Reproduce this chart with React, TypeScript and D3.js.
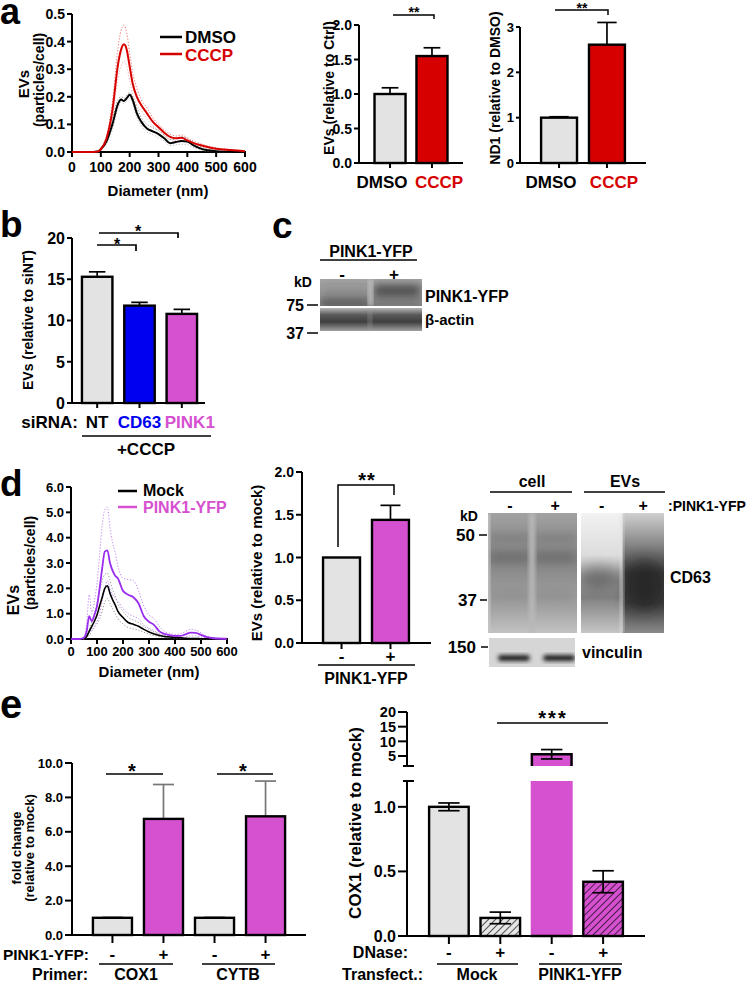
import React from "react";
import * as d3 from "d3";

const FONT = "'Liberation Sans', Arial, Helvetica, sans-serif";
const GRAY = "#e3e3e3";
const RED = "#d70000";
const BLUE = "#0000f0";
const MAG = "#d651d0";
const PURPLE = "#9a2cef";

// ---------- a: NTA size distribution ----------
const diamA = [0, 60, 90, 100, 120, 140, 160, 170, 180, 190, 200, 210, 225, 240, 260, 280, 300, 320, 340, 360, 380, 400, 420, 440, 470, 500, 550, 600];
const dmsoMean = [0, 0, 0.002, 0.01, 0.04, 0.1, 0.175, 0.19, 0.185, 0.195, 0.207, 0.19, 0.14, 0.11, 0.085, 0.075, 0.065, 0.05, 0.032, 0.036, 0.04, 0.038, 0.025, 0.015, 0.006, 0.003, 0.001, 0];
const dmsoHi = [0, 0, 0.003, 0.013, 0.05, 0.12, 0.19, 0.2, 0.195, 0.205, 0.215, 0.2, 0.16, 0.125, 0.1, 0.088, 0.078, 0.062, 0.045, 0.048, 0.055, 0.05, 0.035, 0.022, 0.01, 0.005, 0.002, 0];
const dmsoLo = [0, 0, 0.001, 0.007, 0.03, 0.08, 0.16, 0.18, 0.175, 0.185, 0.195, 0.175, 0.125, 0.095, 0.072, 0.063, 0.052, 0.04, 0.022, 0.026, 0.028, 0.027, 0.016, 0.009, 0.003, 0.001, 0, 0];
const cccpMean = [0, 0, 0.002, 0.01, 0.05, 0.15, 0.32, 0.37, 0.39, 0.37, 0.31, 0.25, 0.2, 0.17, 0.14, 0.11, 0.09, 0.07, 0.055, 0.05, 0.052, 0.042, 0.033, 0.026, 0.018, 0.012, 0.007, 0.003];
const cccpHi = [0, 0, 0.003, 0.014, 0.06, 0.18, 0.38, 0.44, 0.46, 0.43, 0.36, 0.29, 0.23, 0.19, 0.16, 0.125, 0.1, 0.08, 0.065, 0.058, 0.062, 0.05, 0.04, 0.032, 0.022, 0.015, 0.009, 0.004];
const cccpLo = [0, 0, 0.001, 0.006, 0.04, 0.12, 0.27, 0.31, 0.33, 0.31, 0.26, 0.21, 0.17, 0.15, 0.12, 0.095, 0.078, 0.06, 0.046, 0.042, 0.043, 0.034, 0.026, 0.02, 0.014, 0.009, 0.005, 0.002];
const aLineTicksY = [0, 0.1, 0.2, 0.3, 0.4, 0.5];
const diamTicks = [0, 100, 200, 300, 400, 500, 600];

// ---------- a: bars ----------
const aCats = ["DMSO", "CCCP"];
const aEVs = [1.0, 1.55];
const aEVsErr = [0.09, 0.12];
const aND1 = [1.0, 2.61];
const aND1Err = [0.02, 0.49];
const aTicksEV = [0, 0.5, 1, 1.5, 2];
const aTicksND1 = [0, 1, 2, 3];

// ---------- b ----------
const bCats = ["NT", "CD63", "PINK1"];
const bVals = [15.3, 11.8, 10.8];
const bErr = [0.6, 0.4, 0.55];
const bTicks = [0, 5, 10, 15, 20];

// ---------- c (blot lanes) ----------
const cLanes = ["-", "+"];
const cPinkBand = [0.12, 0.85];
const cLowBand = [0.7, 0.3];

// ---------- d: NTA ----------
const diamD = [0, 30, 50, 60, 70, 80, 90, 100, 110, 120, 130, 140, 150, 160, 170, 180, 200, 220, 240, 260, 280, 300, 320, 340, 360, 380, 400, 420, 440, 460, 480, 500, 520, 550, 600];
const mockMean = [0, 0, 0.02, 0.1, 0.3, 0.5, 0.7, 0.95, 1.3, 1.65, 2.0, 2.1, 1.8, 1.55, 1.35, 1.1, 0.85, 0.65, 0.58, 0.5, 0.38, 0.28, 0.2, 0.14, 0.1, 0.08, 0.06, 0.05, 0.03, 0.02, 0.02, 0.01, 0.01, 0, 0];
const mockHi = [0, 0, 0.03, 0.15, 0.4, 0.7, 1.0, 1.4, 1.9, 2.3, 2.55, 2.6, 2.3, 1.95, 1.7, 1.4, 1.1, 0.85, 0.75, 0.65, 0.5, 0.38, 0.28, 0.2, 0.14, 0.11, 0.08, 0.07, 0.05, 0.03, 0.03, 0.02, 0.01, 0, 0];
const mockLo = [0, 0, 0.01, 0.05, 0.15, 0.3, 0.45, 0.6, 0.8, 1.1, 1.45, 1.6, 1.4, 1.2, 1.0, 0.8, 0.6, 0.45, 0.4, 0.35, 0.27, 0.19, 0.13, 0.09, 0.06, 0.05, 0.04, 0.03, 0.02, 0.01, 0.01, 0, 0, 0, 0];
const pinkMean = [0, 0, 0.05, 0.3, 0.9, 0.7, 0.95, 1.3, 2.0, 2.8, 3.45, 3.5, 3.0, 2.7, 2.5, 2.4, 1.9, 1.75, 1.65, 1.4, 0.9, 0.68, 0.55, 0.3, 0.2, 0.15, 0.12, 0.12, 0.18, 0.25, 0.24, 0.16, 0.08, 0.03, 0.01];
const pinkHi = [0, 0, 0.1, 0.6, 1.75, 1.0, 1.5, 2.2, 3.3, 4.5, 5.1, 5.2, 4.4, 3.8, 3.4, 2.9, 2.4, 2.35, 2.3, 1.9, 1.3, 0.95, 0.8, 0.5, 0.3, 0.22, 0.18, 0.2, 0.3, 0.38, 0.35, 0.25, 0.12, 0.05, 0.02];
const pinkLo = [0, 0, 0, 0.05, 0.3, 0.35, 0.5, 0.7, 1.0, 1.5, 2.0, 2.3, 2.0, 1.75, 1.6, 1.5, 1.2, 1.0, 0.9, 0.8, 0.55, 0.42, 0.33, 0.18, 0.1, 0.08, 0.06, 0.05, 0.08, 0.12, 0.12, 0.08, 0.04, 0.01, 0];
const dLineTicksY = [0, 1, 2, 3, 4, 5, 6];

// ---------- d: bars ----------
const dCats = ["-", "+"];
const dVals = [1.0, 1.44];
const dErr = [0, 0.17];
const dTicks = [0, 0.5, 1, 1.5, 2];
const dCellLanes = ["-", "+"];
const dEVLanes = ["-", "+"];

// ---------- e ----------
const eLeftKeys = ["COX1 -", "COX1 +", "CYTB -", "CYTB +"];
const eSigns = ["-", "+", "-", "+"];
const eLeftVals = [1.0, 6.75, 1.0, 6.9];
const eLeftErr = [0.03, 2.0, 0.03, 2.05];
const eLeftTicks = [0, 2, 4, 6, 8, 10];
const eRightKeys = ["Mock -", "Mock +", "PINK1 -", "PINK1 +"];
const eRightVals = [1.0, 0.14, 5.6, 0.42];
const eRightErr = [0.03, 0.045, 1.6, 0.085];
const eTicksLow = [0, 0.5, 1.0];
const eTicksHigh = [5, 10, 15, 20];

type Lin = d3.ScaleLinear<number, number>;

function YAxis({ y, ticks, x, fmt, fs, tl, gap = 2, y1, y2 }: { y: Lin; ticks: number[]; x: number; fmt: (v: number) => string; fs: number; tl: number; gap?: number; y1?: number; y2?: number }) {
  const r = y.range();
  return (
    <g>
      <line x1={x} x2={x} y1={y1 ?? r[0] + 1} y2={y2 ?? r[1]} stroke="#000" strokeWidth={2} />
      {ticks.map((t) => (
        <g key={t}>
          <line x1={x - tl} x2={x} y1={y(t)} y2={y(t)} stroke="#000" strokeWidth={2} />
          <text x={x - tl - gap} y={y(t) + fs * 0.36} fontSize={fs} textAnchor="end">{fmt(t)}</text>
        </g>
      ))}
    </g>
  );
}

function VLabel({ x, y, fs, children, fill = "#000" }: { x: number; y: number; fs: number; children: React.ReactNode; fill?: string }) {
  return (
    <text transform={`translate(${x},${y}) rotate(-90)`} fontSize={fs} textAnchor="middle" fill={fill}>{children}</text>
  );
}

function Bars({ keys, vals, errs, fills, x, y, errColor = "#000", tickLen = 6 }: { keys: string[]; vals: number[]; errs: number[]; fills: string[]; x: d3.ScaleBand<string>; y: Lin; errColor?: string; tickLen?: number }) {
  const bw = x.bandwidth();
  const y0 = y(0);
  return (
    <g>
      {keys.map((k, i) => {
        const x0 = x(k)!;
        const cx = x0 + bw / 2;
        const top = y(vals[i]);
        const cap = bw * 0.27;
        const eu = y(vals[i] + errs[i]);
        return (
          <g key={k}>
            {errs[i] > 0 && (
              <g stroke={errColor} strokeWidth={1.7}>
                <line x1={cx} x2={cx} y1={top} y2={eu} />
                <line x1={cx - cap} x2={cx + cap} y1={eu} y2={eu} />
              </g>
            )}
            <rect x={x0} y={top} width={bw} height={y0 - top} fill={fills[i]} stroke="#000" strokeWidth={2.4} />
            <line x1={cx} x2={cx} y1={y0} y2={y0 + tickLen} stroke="#000" strokeWidth={2} />
          </g>
        );
      })}
    </g>
  );
}

export default function App() {
  // ----- a line -----
  const xA = d3.scaleLinear().domain([0, 600]).range([72, 245]);
  const yA = d3.scaleLinear().domain([0, 0.5]).range([152, 14]);
  const lineA = (vals: number[]) =>
    d3.line<number>().x((_, i) => xA(diamA[i])).y((d) => yA(d)).curve(d3.curveMonotoneX)(vals) || "";

  // ----- a bars -----
  const yA1 = d3.scaleLinear().domain([0, 2]).range([163, 25]);
  const xA1 = d3.scaleBand<string>().domain(aCats).range([359, 463]).paddingInner(0.26).paddingOuter(0.37);
  const yA2 = d3.scaleLinear().domain([0, 3]).range([163, 27]);
  const xA2 = d3.scaleBand<string>().domain(aCats).range([520, 646]).paddingInner(0.25).paddingOuter(0.44);
  const labelShift = [-8, 7];

  // ----- b -----
  const yB = d3.scaleLinear().domain([0, 20]).range([403, 238]);
  const xB = d3.scaleBand<string>().domain(bCats).range([72, 207]).paddingInner(0.28).paddingOuter(0.235);
  const bColors = [GRAY, BLUE, MAG];

  // ----- c -----
  const xC = d3.scaleBand<string>().domain(cLanes).range([320, 422]).paddingInner(0.04);

  // ----- d line -----
  const xD = d3.scaleLinear().domain([0, 600]).range([71, 227]);
  const yD = d3.scaleLinear().domain([0, 6]).range([639, 487]);
  const lineD = (vals: number[]) =>
    d3.line<number>().x((_, i) => xD(diamD[i])).y((d) => yD(d)).curve(d3.curveMonotoneX)(vals) || "";

  // ----- d bars -----
  const yDB = d3.scaleLinear().domain([0, 2]).range([643, 472]);
  const xDB = d3.scaleBand<string>().domain(dCats).range([302, 430]).paddingInner(0.245).paddingOuter(0.43);
  const xCell = d3.scaleBand<string>().domain(dCellLanes).range([488, 577]).paddingInner(0.03);
  const xEV = d3.scaleBand<string>().domain(dEVLanes).range([581, 664]).paddingInner(0.0);

  // ----- e left -----
  const yEL = d3.scaleLinear().domain([0, 10]).range([935, 763]);
  const xEL = d3.scaleBand<string>().domain(eLeftKeys).range([72, 306]).paddingInner(0.235).paddingOuter(0.41);

  // ----- e right -----
  const yLow = d3.scaleLinear().domain([0, 1.2]).range([936, 781]);
  const yHigh = d3.scaleLinear().domain([1.6, 20]).range([766, 712]);
  const xER = d3.scaleBand<string>().domain(eRightKeys).range([407, 645]).paddingInner(0.23).paddingOuter(0.43);
  const eRightFills = [GRAY, "url(#hatchGray)", MAG, "url(#hatchMag)"];

  const f1 = d3.format(".1f");
  const f0 = d3.format("d");

  return (
    <svg width={755} height={982} style={{ position: "absolute", left: 0, top: 0, background: "#fff" }} fontFamily={FONT} fontWeight="bold">
      <defs>
        <pattern id="hatchGray" patternUnits="userSpaceOnUse" width={5} height={5} patternTransform="rotate(45)">
          <rect width={5} height={5} fill="#e6e6e6" />
          <line x1={0} y1={0} x2={0} y2={5} stroke="#555" strokeWidth={2} />
        </pattern>
        <pattern id="hatchMag" patternUnits="userSpaceOnUse" width={5} height={5} patternTransform="rotate(45)">
          <rect width={5} height={5} fill={MAG} />
          <line x1={0} y1={0} x2={0} y2={5} stroke="#3a1438" strokeWidth={1.8} />
        </pattern>
        <filter id="blur2" x="-20%" y="-50%" width="140%" height="200%"><feGaussianBlur stdDeviation={2} /></filter>
        <filter id="blur4" x="-30%" y="-50%" width="160%" height="200%"><feGaussianBlur stdDeviation={4} /></filter>
        <filter id="blur7" x="-50%" y="-50%" width="200%" height="200%"><feGaussianBlur stdDeviation={7} /></filter>
        <clipPath id="clipC1"><rect x={320} y={279} width={102} height={27} /></clipPath>
        <clipPath id="clipC2"><rect x={320} y={308} width={102} height={23} /></clipPath>
        <clipPath id="clipCell"><rect x={488} y={513} width={89} height={120} /></clipPath>
        <clipPath id="clipEV"><rect x={581} y={513} width={83} height={120} /></clipPath>
        <clipPath id="clipVin"><rect x={489} y={638} width={86} height={29} /></clipPath>
        <linearGradient id="gC1" x1="0" y1="0" x2="0" y2="1">
          <stop offset="0" stopColor="#a4a4a4" />
          <stop offset="1" stopColor="#8e8e8e" />
        </linearGradient>
        <linearGradient id="gC2" x1="0" y1="0" x2="0" y2="1">
          <stop offset="0" stopColor="#b4b4b4" />
          <stop offset="0.3" stopColor="#5a5a5a" />
          <stop offset="0.6" stopColor="#3e3e3e" />
          <stop offset="1" stopColor="#a0a0a0" />
        </linearGradient>
        <linearGradient id="gCell" x1="0" y1="0" x2="0" y2="1">
          <stop offset="0" stopColor="#a2a2a2" />
          <stop offset="0.2" stopColor="#909090" />
          <stop offset="0.4" stopColor="#858585" />
          <stop offset="0.6" stopColor="#969696" />
          <stop offset="0.8" stopColor="#a4a4a4" />
          <stop offset="1" stopColor="#c2c2c2" />
        </linearGradient>
        <linearGradient id="gEV1" x1="0" y1="0" x2="0" y2="1">
          <stop offset="0" stopColor="#f2f2f2" />
          <stop offset="0.35" stopColor="#dcdcdc" />
          <stop offset="0.55" stopColor="#a0a0a0" />
          <stop offset="0.7" stopColor="#808080" />
          <stop offset="1" stopColor="#c6c6c6" />
        </linearGradient>
        <linearGradient id="gEV2" x1="0" y1="0" x2="0" y2="1">
          <stop offset="0" stopColor="#d0d0d0" />
          <stop offset="0.25" stopColor="#8a8a8a" />
          <stop offset="0.5" stopColor="#3a3a3a" />
          <stop offset="0.75" stopColor="#3c3c3c" />
          <stop offset="1" stopColor="#8a8a8a" />
        </linearGradient>
      </defs>

      {/* ================= a ================= */}
      <text x={0} y={24} fontSize={36}>a</text>
      <YAxis y={yA} ticks={aLineTicksY} x={72} fmt={f1} fs={14} tl={5} />
      <line x1={71} x2={246} y1={152} y2={152} stroke="#000" strokeWidth={2} />
      {diamTicks.map((t) => (
        <g key={t}>
          <line x1={xA(t)} x2={xA(t)} y1={152} y2={157} stroke="#000" strokeWidth={2} />
          <text x={xA(t)} y={172} fontSize={14} textAnchor="middle">{t}</text>
        </g>
      ))}
      <text x={158} y={196} fontSize={15} textAnchor="middle">Diameter (nm)</text>
      <VLabel x={29} y={84} fs={15}>EVs</VLabel>
      <VLabel x={44} y={80} fs={14}>(particles/cell)</VLabel>
      <g fill="none" strokeWidth={1} strokeDasharray="1.2,1.8">
        <path d={lineA(dmsoHi)} stroke="#888" />
        <path d={lineA(dmsoLo)} stroke="#bbb" />
        <path d={lineA(cccpHi)} stroke="#f07070" />
        <path d={lineA(cccpLo)} stroke="#f6b4b4" />
      </g>
      <path d={lineA(dmsoMean)} fill="none" stroke="#000" strokeWidth={2} />
      <path d={lineA(cccpMean)} fill="none" stroke={RED} strokeWidth={2} />
      <line x1={160} x2={182} y1={37} y2={37} stroke="#000" strokeWidth={2.5} />
      <text x={185} y={43} fontSize={17}>DMSO</text>
      <line x1={160} x2={182} y1={54} y2={54} stroke={RED} strokeWidth={2.5} />
      <text x={185} y={61} fontSize={17} fill={RED}>CCCP</text>

      {/* a bar 1 */}
      <YAxis y={yA1} ticks={aTicksEV} x={359} fmt={f1} fs={14} tl={5} />
      <line x1={358} x2={463} y1={163} y2={163} stroke="#000" strokeWidth={2} />
      <Bars keys={aCats} vals={aEVs} errs={aEVsErr} fills={[GRAY, RED]} x={xA1} y={yA1} tickLen={5} />
      {aCats.map((c, i) => (
        <text key={c} x={xA1(c)! + xA1.bandwidth() / 2 + labelShift[i]} y={188} fontSize={17} textAnchor="middle" fill={i === 0 ? "#000" : RED}>{c}</text>
      ))}
      <VLabel x={334} y={88} fs={14}>EVs (relative to Ctrl)</VLabel>
      <path d={`M393,15 H434 V19`} fill="none" stroke="#000" strokeWidth={1.5} />
      <text x={414} y={17} fontSize={14} textAnchor="middle">**</text>

      {/* a bar 2 ND1 */}
      <YAxis y={yA2} ticks={aTicksND1} x={520} fmt={f0} fs={13} tl={4} />
      <line x1={519} x2={646} y1={163} y2={163} stroke="#000" strokeWidth={2} />
      <Bars keys={aCats} vals={aND1} errs={aND1Err} fills={[GRAY, RED]} x={xA2} y={yA2} tickLen={5} />
      {aCats.map((c, i) => (
        <text key={c} x={xA2(c)! + xA2.bandwidth() / 2 + labelShift[i]} y={188} fontSize={17} textAnchor="middle" fill={i === 0 ? "#000" : RED}>{c}</text>
      ))}
      <VLabel x={500} y={88} fs={14}>ND1 (relative to DMSO)</VLabel>
      <path d={`M555,10 H608 V15`} fill="none" stroke="#000" strokeWidth={1.5} />
      <text x={582} y={13} fontSize={14} textAnchor="middle">**</text>

      {/* ================= b ================= */}
      <text x={0} y={237} fontSize={37}>b</text>
      <YAxis y={yB} ticks={bTicks} x={72} fmt={f0} fs={16} tl={5} />
      <line x1={71} x2={205} y1={403} y2={403} stroke="#000" strokeWidth={2} />
      <Bars keys={bCats} vals={bVals} errs={bErr} fills={bColors} x={xB} y={yB} tickLen={5} />
      <VLabel x={33} y={320} fs={14}>EVs (relative to siNT)</VLabel>
      <text x={78} y={428} fontSize={17} textAnchor="end">siRNA:</text>
      {bCats.map((c, i) => (
        <text key={c} x={xB(c)! + xB.bandwidth() / 2 + (i === 2 ? 8 : 0)} y={428} fontSize={17} textAnchor="middle" fill={i === 0 ? "#000" : bColors[i]}>{c}</text>
      ))}
      <line x1={82} x2={211} y1={436} y2={436} stroke="#000" strokeWidth={1.5} />
      <text x={146} y={455} fontSize={17} textAnchor="middle">+CCCP</text>
      <path d={`M97,245 H136 V251`} fill="none" stroke="#000" strokeWidth={1.7} />
      <text x={117} y={250} fontSize={16} textAnchor="middle">*</text>
      <path d={`M99,233 H178 V238`} fill="none" stroke="#000" strokeWidth={1.7} />
      <text x={138} y={237} fontSize={16} textAnchor="middle">*</text>

      {/* ================= c ================= */}
      <text x={272} y={238} fontSize={37}>c</text>
      <text x={371} y={257} fontSize={16} textAnchor="middle">PINK1-YFP</text>
      <line x1={320} x2={417} y1={260} y2={260} stroke="#000" strokeWidth={1.5} />
      <text x={303} y={287} fontSize={14} textAnchor="middle">kD</text>
      {cLanes.map((l) => (
        <text key={l} x={xC(l)! + xC.bandwidth() / 2 - 3} y={280} fontSize={17} textAnchor="middle">{l}</text>
      ))}
      <g clipPath="url(#clipC1)">
        <rect x={320} y={279} width={102} height={27} fill="url(#gC1)" />
        {cLanes.map((l, i) => (
          <g key={l} filter="url(#blur4)">
            <rect x={xC(l)! + 2} y={285} width={xC.bandwidth() - 4} height={11} fill="#3c3c3c" opacity={cPinkBand[i]} />
            <rect x={xC(l)!} y={299} width={xC.bandwidth()} height={9} fill="#3c3c3c" opacity={cLowBand[i]} />
          </g>
        ))}
        <rect x={368} y={279} width={5} height={27} fill="#bdbdbd" filter="url(#blur2)" />
      </g>
      <g clipPath="url(#clipC2)">
        <rect x={320} y={308} width={102} height={23} fill="url(#gC2)" />
        <rect x={368} y={308} width={4} height={23} fill="#9a9a9a" opacity={0.5} filter="url(#blur2)" />
      </g>
      <text x={304} y={311} fontSize={16} textAnchor="end">75</text>
      <line x1={307} x2={318} y1={305} y2={305} stroke="#000" strokeWidth={1.5} />
      <text x={304} y={339} fontSize={16} textAnchor="end">37</text>
      <line x1={307} x2={318} y1={333} y2={333} stroke="#000" strokeWidth={1.5} />
      <text x={425} y={302} fontSize={16}>PINK1-YFP</text>
      <text x={425} y={325} fontSize={15}>β-actin</text>

      {/* ================= d ================= */}
      <text x={0} y={496} fontSize={37}>d</text>
      <YAxis y={yD} ticks={dLineTicksY} x={71} fmt={f1} fs={13} tl={5} />
      <line x1={70} x2={228} y1={639} y2={639} stroke="#000" strokeWidth={2} />
      {diamTicks.map((t) => (
        <g key={t}>
          <line x1={xD(t)} x2={xD(t)} y1={639} y2={644} stroke="#000" strokeWidth={2} />
          <text x={xD(t)} y={656} fontSize={13} textAnchor="middle">{t}</text>
        </g>
      ))}
      <text x={149} y={677} fontSize={15} textAnchor="middle">Diameter (nm)</text>
      <VLabel x={19} y={600} fs={16}>EVs</VLabel>
      <VLabel x={35} y={563} fs={14}>(particles/cell)</VLabel>
      <g fill="none" strokeWidth={1} strokeDasharray="1.2,1.8">
        <path d={lineD(mockHi)} stroke="#999" />
        <path d={lineD(mockLo)} stroke="#999" />
        <path d={lineD(pinkHi)} stroke="#c285f0" />
        <path d={lineD(pinkLo)} stroke="#c285f0" />
      </g>
      <path d={lineD(mockMean)} fill="none" stroke="#000" strokeWidth={1.6} />
      <path d={lineD(pinkMean)} fill="none" stroke={PURPLE} strokeWidth={1.8} />
      <line x1={118} x2={137} y1={491} y2={491} stroke="#000" strokeWidth={2.5} />
      <text x={143} y={496} fontSize={16}>Mock</text>
      <line x1={118} x2={137} y1={507} y2={507} stroke={MAG} strokeWidth={2.5} />
      <text x={143} y={513} fontSize={16} fill={MAG}>PINK1-YFP</text>

      {/* d bars */}
      <YAxis y={yDB} ticks={dTicks} x={302} fmt={f1} fs={14} tl={6} />
      <line x1={301} x2={431} y1={643} y2={643} stroke="#000" strokeWidth={2} />
      <Bars keys={dCats} vals={dVals} errs={dErr} fills={[GRAY, MAG]} x={xDB} y={yDB} tickLen={6} />
      {dCats.map((c) => (
        <text key={c} x={xDB(c)! + xDB.bandwidth() / 2} y={662} fontSize={17} textAnchor="middle">{c}</text>
      ))}
      <line x1={318} x2={415} y1={665} y2={665} stroke="#000" strokeWidth={1.5} />
      <text x={366} y={684} fontSize={16} textAnchor="middle">PINK1-YFP</text>
      <VLabel x={262} y={563} fs={15}>EVs (relative to mock)</VLabel>
      <path d={`M338,547 V485 H394 V495`} fill="none" stroke="#000" strokeWidth={1.5} />
      <text x={367} y={487} fontSize={20} textAnchor="middle" letterSpacing={1}>**</text>

      {/* d blot */}
      <text x={532} y={487} fontSize={16} textAnchor="middle">cell</text>
      <line x1={490} x2={572} y1={492} y2={492} stroke="#000" strokeWidth={1.5} />
      <text x={625} y={487} fontSize={16} textAnchor="middle">EVs</text>
      <line x1={584} x2={665} y1={492} y2={492} stroke="#000" strokeWidth={1.5} />
      {dCellLanes.map((l) => (
        <text key={"c" + l} x={xCell(l)! + xCell.bandwidth() / 2} y={511} fontSize={16} textAnchor="middle">{l}</text>
      ))}
      {dEVLanes.map((l) => (
        <text key={"e" + l} x={xEV(l)! + xEV.bandwidth() / 2} y={511} fontSize={16} textAnchor="middle">{l}</text>
      ))}
      <text x={668} y={511} fontSize={14}>:PINK1-YFP</text>
      <text x={469} y={521} fontSize={14} textAnchor="middle">kD</text>
      <g clipPath="url(#clipCell)">
        <rect x={488} y={513} width={89} height={120} fill="url(#gCell)" />
        {dCellLanes.map((l) => (
          <g key={l} filter="url(#blur4)">
            <rect x={xCell(l)! + 2} y={534} width={xCell.bandwidth() - 4} height={8} fill="#6e6e6e" opacity={0.5} />
            <rect x={xCell(l)! + 2} y={551} width={xCell.bandwidth() - 4} height={12} fill="#5e5e5e" opacity={0.55} />
            <rect x={xCell(l)! + 2} y={590} width={xCell.bandwidth() - 4} height={12} fill="#7a7a7a" opacity={0.3} />
          </g>
        ))}
        <rect x={529} y={513} width={6} height={120} fill="#b8b8b8" filter="url(#blur2)" />
        <rect x={485} y={513} width={5} height={120} fill="#c8c8c8" filter="url(#blur2)" />
      </g>
      <g clipPath="url(#clipEV)">
        <rect x={xEV("-")!} y={513} width={xEV.bandwidth()} height={120} fill="url(#gEV1)" />
        <rect x={xEV("+")!} y={513} width={xEV.bandwidth()} height={120} fill="url(#gEV2)" />
        <ellipse cx={xEV("-")! + 18} cy={578} rx={22} ry={11} fill="#4a4a4a" opacity={0.6} filter="url(#blur7)" />
        <ellipse cx={xEV("+")! + 22} cy={585} rx={20} ry={26} fill="#1e1e1e" opacity={0.6} filter="url(#blur7)" />
        <rect x={620} y={513} width={4} height={120} fill="#e0e0e0" opacity={0.6} filter="url(#blur2)" />
      </g>
      <text x={475} y={541} fontSize={17} textAnchor="end">50</text>
      <line x1={479} x2={487} y1={535} y2={535} stroke="#000" strokeWidth={1.5} />
      <text x={477} y={606} fontSize={17} textAnchor="end">37</text>
      <line x1={480} x2={487} y1={600} y2={600} stroke="#000" strokeWidth={1.5} />
      <text x={670} y={583} fontSize={16}>CD63</text>
      <g clipPath="url(#clipVin)">
        <rect x={489} y={638} width={86} height={29} fill="#d6d6d6" />
        {dCellLanes.map((l) => (
          <rect key={l} x={xCell(l)! + 10} y={655} width={xCell.bandwidth() - 12} height={6} rx={3} fill="#1a1a1a" filter="url(#blur2)" />
        ))}
      </g>
      <text x={476} y={653} fontSize={17} textAnchor="end">150</text>
      <line x1={481} x2={488} y1={647} y2={647} stroke="#000" strokeWidth={1.5} />
      <text x={582} y={658} fontSize={16}>vinculin</text>

      {/* ================= e ================= */}
      <text x={0} y={718} fontSize={40}>e</text>
      <YAxis y={yEL} ticks={eLeftTicks} x={72} fmt={f1} fs={13} tl={7} />
      <line x1={71} x2={306} y1={935} y2={935} stroke="#000" strokeWidth={2} />
      <Bars keys={eLeftKeys} vals={eLeftVals} errs={eLeftErr} fills={[GRAY, MAG, GRAY, MAG]} x={xEL} y={yEL} errColor="#777" tickLen={8} />
      <VLabel x={21} y={848} fs={13}>fold change</VLabel>
      <VLabel x={34} y={848} fs={13}>(relative to mock)</VLabel>
      <text x={89} y={960} fontSize={15.5} textAnchor="end">PINK1-YFP:</text>
      {eLeftKeys.map((k, i) => (
        <text key={k} x={xEL(k)! + xEL.bandwidth() / 2} y={960} fontSize={17} textAnchor="middle">{eSigns[i]}</text>
      ))}
      <line x1={99} x2={173} y1={964} y2={964} stroke="#000" strokeWidth={1.5} />
      <line x1={202} x2={275} y1={964} y2={964} stroke="#000" strokeWidth={1.5} />
      <text x={88} y={980} fontSize={16} textAnchor="end">Primer:</text>
      <text x={136} y={980} fontSize={16} textAnchor="middle">COX1</text>
      <text x={238} y={980} fontSize={16} textAnchor="middle">CYTB</text>
      <line x1={106} x2={163} y1={774} y2={774} stroke="#000" strokeWidth={1.7} />
      <text x={132} y={778} fontSize={20} textAnchor="middle">*</text>
      <line x1={217} x2={273} y1={774} y2={774} stroke="#000" strokeWidth={1.7} />
      <text x={243} y={778} fontSize={20} textAnchor="middle">*</text>

      {/* e right (broken axis) */}
      <YAxis y={yLow} ticks={eTicksLow} x={407} fmt={f1} fs={16} tl={9} y1={937} y2={781} />
      <YAxis y={yHigh} ticks={eTicksHigh} x={407} fmt={f0} fs={14.5} tl={9} y1={766} y2={712} />
      <line x1={403} x2={414} y1={766} y2={766} stroke="#000" strokeWidth={2} />
      <line x1={403} x2={414} y1={781} y2={781} stroke="#000" strokeWidth={2} />
      <line x1={406} x2={645} y1={936} y2={936} stroke="#000" strokeWidth={2} />
      {eRightKeys.map((k, i) => {
        const x0 = xER(k)!;
        const bw = xER.bandwidth();
        const cx = x0 + bw / 2;
        const v = eRightVals[i];
        const e = eRightErr[i];
        const cap = bw * 0.27;
        const y0 = yLow(0);
        if (v <= 1.2) {
          const top = yLow(v);
          return (
            <g key={k}>
              <g stroke="#000" strokeWidth={1.7}>
                <line x1={cx} x2={cx} y1={top} y2={yLow(v + e)} />
                <line x1={cx - cap} x2={cx + cap} y1={yLow(v + e)} y2={yLow(v + e)} />
              </g>
              <rect x={x0} y={top} width={bw} height={y0 - top} fill={eRightFills[i]} stroke="#000" strokeWidth={2.4} />
              <g stroke="#000" strokeWidth={1.7}>
                <line x1={cx} x2={cx} y1={top} y2={yLow(v - e)} />
                <line x1={cx - cap} x2={cx + cap} y1={yLow(v - e)} y2={yLow(v - e)} />
              </g>
              <line x1={cx} x2={cx} y1={y0} y2={y0 + 8} stroke="#000" strokeWidth={2} />
            </g>
          );
        }
        const lowTop = yLow(1.2);
        const hb = yHigh(1.6);
        const ht = yHigh(v);
        return (
          <g key={k}>
            <rect x={x0 - 1.2} y={lowTop} width={bw + 2.4} height={y0 - lowTop} fill={eRightFills[i]} />
            <line x1={x0 - 1.2} x2={x0 + bw + 1.2} y1={y0} y2={y0} stroke="#000" strokeWidth={2.4} />
            <g stroke="#000" strokeWidth={1.7}>
              <line x1={cx} x2={cx} y1={ht} y2={yHigh(v + e)} />
              <line x1={cx - cap} x2={cx + cap} y1={yHigh(v + e)} y2={yHigh(v + e)} />
            </g>
            <rect x={x0 - 1.2} y={ht - 1.2} width={bw + 2.4} height={hb - ht + 1.2} fill={eRightFills[i]} />
            <path d={`M${x0},${hb} V${ht} H${x0 + bw} V${hb}`} fill="none" stroke="#000" strokeWidth={2.4} />
            <g stroke="#000" strokeWidth={1.7}>
              <line x1={cx} x2={cx} y1={ht} y2={yHigh(v - e)} />
              <line x1={cx - cap} x2={cx + cap} y1={yHigh(v - e)} y2={yHigh(v - e)} />
            </g>
            <line x1={cx} x2={cx} y1={y0} y2={y0 + 8} stroke="#000" strokeWidth={2} />
          </g>
        );
      })}
      <VLabel x={361} y={823} fs={17}>COX1 (relative to mock)</VLabel>
      <text x={408} y={958} fontSize={16} textAnchor="end">DNase:</text>
      {eRightKeys.map((k, i) => (
        <text key={k} x={xER(k)! + xER.bandwidth() / 2} y={958} fontSize={17} textAnchor="middle">{eSigns[i]}</text>
      ))}
      <line x1={437} x2={518} y1={964} y2={964} stroke="#000" strokeWidth={1.5} />
      <line x1={539} x2={622} y1={964} y2={964} stroke="#000" strokeWidth={1.5} />
      <text x={423} y={980} fontSize={16} textAnchor="end">Transfect.:</text>
      <text x={477} y={980} fontSize={16} textAnchor="middle">Mock</text>
      <text x={580} y={980} fontSize={16} textAnchor="middle">PINK1-YFP</text>
      <line x1={497} x2={608} y1={723} y2={723} stroke="#000" strokeWidth={1.7} />
      <text x={553} y={725} fontSize={20} textAnchor="middle" letterSpacing={2}>***</text>
    </svg>
  );
}
